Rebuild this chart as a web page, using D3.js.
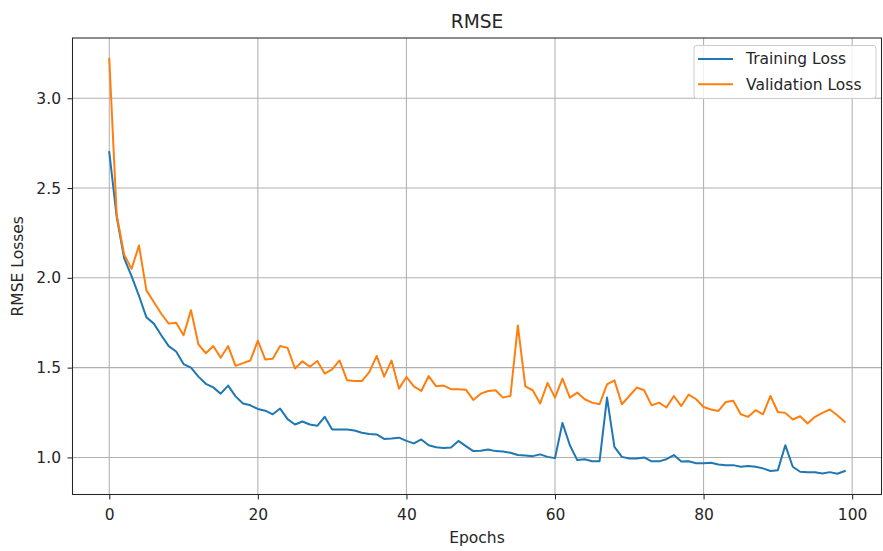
<!DOCTYPE html>
<html>
<head>
<meta charset="utf-8">
<script src="https://cdn.jsdelivr.net/npm/d3@7/dist/d3.min.js"></script>
<style>
  html, body { margin: 0; padding: 0; background: #fff; }
  svg text { font-family: "DejaVu Sans", sans-serif; fill: #262626; }
</style>
</head>
<body>
<svg id="chart" width="883" height="551"></svg>
<script>
// Per-epoch RMSE for the training and validation sets
const epochs = d3.range(100);

const trainingLoss = [
  2.70, 2.34, 2.11, 2.01, 1.90, 1.78, 1.745, 1.68, 1.62, 1.59,
  1.52, 1.50, 1.45, 1.41, 1.39, 1.355, 1.40, 1.34, 1.30, 1.29,
  1.27, 1.26, 1.24, 1.272, 1.213, 1.183, 1.20, 1.183, 1.176, 1.226,
  1.155, 1.155, 1.155, 1.15, 1.137, 1.13, 1.128, 1.103, 1.105, 1.11,
  1.092, 1.078, 1.10, 1.068, 1.057, 1.053, 1.055, 1.092, 1.063, 1.035,
  1.037, 1.044, 1.035, 1.033, 1.026, 1.013, 1.011, 1.007, 1.017, 1.003,
  0.996, 1.192, 1.068, 0.985, 0.99, 0.979, 0.979, 1.333, 1.059, 1.003,
  0.994, 0.994, 1.00, 0.978, 0.978, 0.99, 1.013, 0.977, 0.979, 0.967,
  0.967, 0.97, 0.961, 0.957, 0.957, 0.948, 0.952, 0.948, 0.939, 0.924,
  0.929, 1.068, 0.948, 0.92, 0.918, 0.917, 0.911, 0.918, 0.909, 0.924
];

const validationLoss = [
  3.22, 2.35, 2.13, 2.05, 2.18, 1.93, 1.865, 1.80, 1.745, 1.75,
  1.68, 1.82, 1.63, 1.58, 1.62, 1.555, 1.62, 1.51, 1.525, 1.54,
  1.65, 1.545, 1.55, 1.62, 1.61, 1.495, 1.535, 1.505, 1.537, 1.467,
  1.49, 1.54, 1.43, 1.425, 1.425, 1.475, 1.565, 1.45, 1.54, 1.383,
  1.448, 1.396, 1.37, 1.453, 1.396, 1.40, 1.38, 1.38, 1.377, 1.32,
  1.355, 1.37, 1.374, 1.333, 1.342, 1.735, 1.396, 1.374, 1.30, 1.415,
  1.333, 1.439, 1.333, 1.361, 1.324, 1.305, 1.296, 1.407, 1.429, 1.296,
  1.342, 1.389, 1.374, 1.29, 1.305, 1.278, 1.342, 1.286, 1.35, 1.324,
  1.281, 1.267, 1.259, 1.309, 1.315, 1.24, 1.226, 1.263, 1.24, 1.342,
  1.253, 1.248, 1.211, 1.229, 1.189, 1.226, 1.248, 1.267, 1.235, 1.198
];

const xTicks = [0, 20, 40, 60, 80, 100];
const yTicks = [1.0, 1.5, 2.0, 2.5, 3.0];

const seriesNames = ["Training Loss", "Validation Loss"];
const seriesColors = ["#1f77b4", "#ff7f0e"];

const svg = d3.select("#chart");
const plot = { left: 72.5, right: 881.5, top: 38, bottom: 494.5 };
const fontSize = 15.5;

// Axis limits padded by 5% of the data span on each side
const xMin = d3.min(epochs), xMax = d3.max(epochs);
const xPad = (xMax - xMin) * 0.05;
const allVals = trainingLoss.concat(validationLoss);
const yMin = d3.min(allVals), yMax = d3.max(allVals);
const yPad = (yMax - yMin) * 0.05;

const x = d3.scaleLinear().domain([xMin - xPad, xMax + xPad]).range([plot.left, plot.right]);
const y = d3.scaleLinear().domain([yMin - yPad, yMax + yPad]).range([plot.bottom, plot.top]);

// Grid
const grid = svg.append("g").attr("stroke", "#b0b0b0").attr("stroke-width", 1.05);
grid.selectAll("line.gx").data(xTicks).join("line")
  .attr("x1", d => x(d)).attr("x2", d => x(d))
  .attr("y1", plot.top).attr("y2", plot.bottom);
grid.selectAll("line.gy").data(yTicks).join("line")
  .attr("x1", plot.left).attr("x2", plot.right)
  .attr("y1", d => y(d)).attr("y2", d => y(d));

// Axes
const xAxis = d3.axisBottom(x).tickValues(xTicks).tickFormat(d3.format("d")).tickSize(5).tickPadding(9.5);
const yAxis = d3.axisLeft(y).tickValues(yTicks).tickFormat(d3.format(".1f")).tickSize(5).tickPadding(6.5);

const gx = svg.append("g").attr("transform", `translate(0,${plot.bottom})`).call(xAxis);
const gy = svg.append("g").attr("transform", `translate(${plot.left},0)`).call(yAxis);
[gx, gy].forEach(g => {
  g.select(".domain").remove();
  g.selectAll(".tick line").attr("stroke", "#262626").attr("stroke-width", 1.05);
  g.selectAll(".tick text").attr("font-size", fontSize).attr("fill", "#262626")
    .style("font-family", "'DejaVu Sans', sans-serif");
});

// Lines
const line = d3.line().x((d, i) => x(epochs[i])).y(d => y(d));
[trainingLoss, validationLoss].forEach((vals, k) => {
  svg.append("path")
    .datum(vals)
    .attr("fill", "none")
    .attr("stroke", seriesColors[k])
    .attr("stroke-width", 2)
    .attr("stroke-linejoin", "round")
    .attr("stroke-linecap", "square")
    .attr("d", line);
});

// Frame
svg.append("rect")
  .attr("x", plot.left).attr("y", plot.top)
  .attr("width", plot.right - plot.left).attr("height", plot.bottom - plot.top)
  .attr("fill", "none").attr("stroke", "#262626").attr("stroke-width", 1.05);

// Title and axis labels
svg.append("text")
  .attr("x", (plot.left + plot.right) / 2).attr("y", 27.5)
  .attr("text-anchor", "middle").attr("font-size", 18.6)
  .text("RMSE");

svg.append("text")
  .attr("x", (plot.left + plot.right) / 2).attr("y", 543)
  .attr("text-anchor", "middle").attr("font-size", fontSize)
  .text("Epochs");

svg.append("text")
  .attr("transform", `translate(23,${(plot.top + plot.bottom) / 2}) rotate(-90)`)
  .attr("text-anchor", "middle").attr("font-size", fontSize)
  .text("RMSE Losses");

// Legend
const legend = svg.append("g");
legend.append("rect")
  .attr("x", 694).attr("y", 45.5).attr("width", 182).attr("height", 53)
  .attr("rx", 3).attr("fill", "#ffffff").attr("fill-opacity", 0.8)
  .attr("stroke", "#cccccc").attr("stroke-width", 1);
seriesNames.forEach((name, k) => {
  const ly = 59 + k * 25.3;
  legend.append("line")
    .attr("x1", 698).attr("x2", 733).attr("y1", ly).attr("y2", ly)
    .attr("stroke", seriesColors[k]).attr("stroke-width", 2);
  legend.append("text")
    .attr("x", 746).attr("y", ly).attr("dy", "0.35em")
    .attr("font-size", fontSize).text(name);
});
</script>
</body>
</html>
